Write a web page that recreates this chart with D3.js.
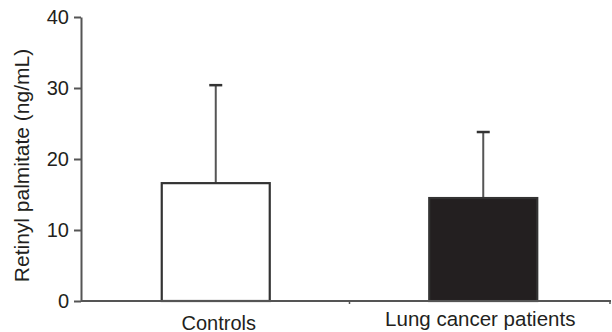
<!DOCTYPE html>
<html><head><meta charset="utf-8">
<script src="https://cdn.jsdelivr.net/npm/d3@7"></script>
<style>body{margin:0;background:#fff}svg{display:block}text{font-family:"Liberation Sans",Arial,sans-serif;fill:#231f20}</style>
</head><body><div id="c"></div>
<script>
const categories = ["Controls", "Lung cancer patients"];
const means = [16.6, 14.5];
const sds = [13.8, 9.3];
const yTicks = [0, 10, 20, 30, 40];
const yLabel = "Retinyl palmitate (ng/mL)";

const W = 612, H = 332;
const svg = d3.select("#c").append("svg").attr("width", W).attr("height", H);
const axisColor = "#555";
const y = d3.scaleLinear().domain([0, 40]).range([301, 17]);
const x = d3.scaleBand().domain(categories).range([82, 617]).padding(0);
const barW = 108, capW = 13;
const fills = ["#fff", "#231f20"];

const eb = svg.append("g");
categories.forEach((c, i) => {
  const cx = x(c) + x.bandwidth() / 2;
  eb.append("line").attr("x1", cx).attr("x2", cx)
    .attr("y1", y(means[i])).attr("y2", y(means[i] + sds[i]))
    .attr("stroke", axisColor).attr("stroke-width", 2);
  eb.append("line").attr("x1", cx - capW / 2).attr("x2", cx + capW / 2)
    .attr("y1", y(means[i] + sds[i])).attr("y2", y(means[i] + sds[i]))
    .attr("stroke", "#333").attr("stroke-width", 2.5);
});

svg.append("g").selectAll("rect").data(categories).join("rect")
  .attr("x", c => x(c) + x.bandwidth() / 2 - barW / 2)
  .attr("width", barW)
  .attr("y", (c, i) => y(means[i]))
  .attr("height", (c, i) => y(0) - y(means[i]))
  .attr("fill", (c, i) => fills[i])
  .attr("stroke", "#333").attr("stroke-width", 2.2);

const ya = svg.append("g").attr("transform", "translate(81,0)")
  .call(d3.axisLeft(y).tickValues(yTicks).tickSize(7).tickPadding(5).tickSizeOuter(0));
ya.select(".domain").attr("stroke", axisColor).attr("stroke-width", 2);
ya.selectAll(".tick line").attr("stroke", axisColor).attr("stroke-width", 2);
ya.selectAll(".tick text").attr("font-size", 20).attr("font-family", "Liberation Sans, Arial, sans-serif").attr("fill", "#231f20");

svg.append("line").attr("x1", 81).attr("x2", 611).attr("y1", y(0)).attr("y2", y(0))
  .attr("stroke", axisColor).attr("stroke-width", 2);
[x.step() + x.range()[0], 610].forEach(t => {
  svg.append("line").attr("x1", t).attr("x2", t).attr("y1", y(0)).attr("y2", y(0) + 3)
    .attr("stroke", axisColor).attr("stroke-width", 1.5);
});

const labOff = [{dx: 3, yb: 329.5, fs: 20}, {dx: -3, yb: 326, fs: 20.5}];
categories.forEach((c, i) => {
  svg.append("text").attr("x", x(c) + x.bandwidth() / 2 + labOff[i].dx).attr("y", labOff[i].yb)
    .attr("text-anchor", "middle").attr("font-size", labOff[i].fs).text(c);
});

svg.append("text").attr("transform", "translate(29,165.5) rotate(-90)")
  .attr("text-anchor", "middle").attr("font-size", 21).text(yLabel);
</script></body></html>
